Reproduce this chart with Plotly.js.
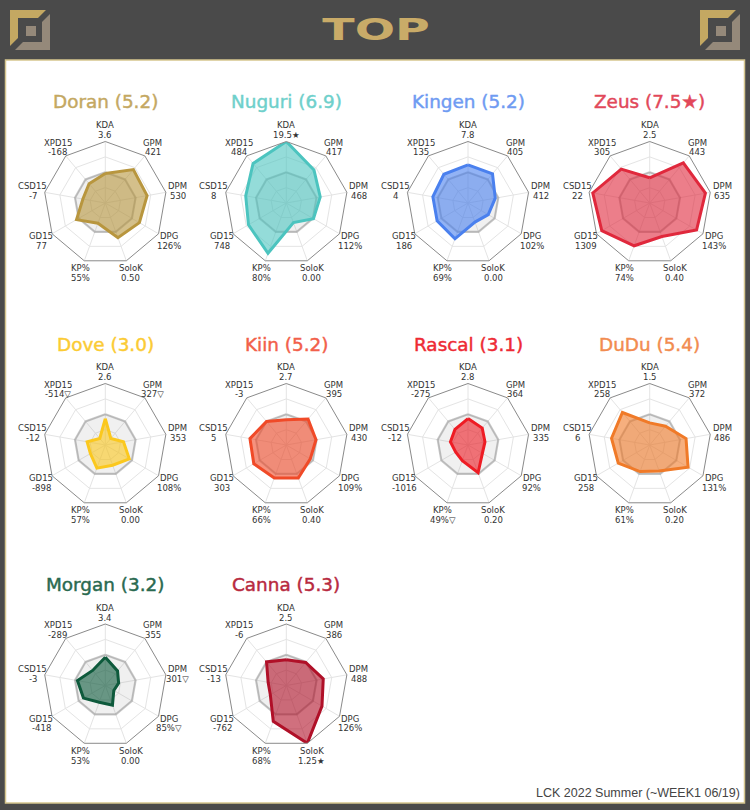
<!DOCTYPE html>
<html>
<head>
<meta charset="utf-8">
<script src="https://cdn.plot.ly/plotly-3.0.1.min.js"></script>
<style>html,body{margin:0;padding:0;background:#4a4a4a}#chart{width:750px;height:810px}</style>
</head>
<body>
<div id="chart"></div>
<script>
const axes = ['KDA','GPM','DPM','DPG','SoloK','KP%','GD15','CSD15','XPD15'];
const players = ['Doran','Nuguri','Kingen','Zeus','Dove','Kiin','Rascal','DuDu','Morgan','Canna'];
const scores = ['5.2','6.9','5.2','7.5★','3.0','5.2','3.1','5.4','3.2','5.3'];
const lineColors = ['#b8963e','#4cc4bf','#4a80ee','#e0283c','#fbc81e','#f04a28','#ee1c24','#f07a28','#0e5a3c','#b01028'];
const titleColors = ['#c4a862','#6fd0cb','#6f9bf2','#e2485a','#fbcb34','#f2604a','#ee2a34','#f28c50','#2a6a50','#b82a40'];
const doran  = [.48,.71,.69,.64,.60,.35,.54,.37,.41];
const nuguri = [1.0,.70,.56,.51,.34,.87,.71,.67,.84];
const kingen = [.62,.62,.45,.38,.33,.62,.58,.58,.61];
const zeus   = [.41,.85,.92,.88,.58,.74,.90,.94,.72];
const dove   = [.43,.14,.30,.45,.35,.40,.28,.30,.14];
const kiin   = [.41,.55,.49,.45,.57,.57,.61,.60,.50];
const rascal = [.43,.36,.28,.27,.48,.27,.23,.29,.33];
const dudu   = [.36,.40,.60,.72,.45,.46,.59,.63,.69];
const morgan = [.46,.31,.22,.16,.34,.29,.41,.46,.32];
const canna  = [.42,.49,.61,.67,1.0,.62,.30,.30,.50];
const series = [doran,nuguri,kingen,zeus,dove,kiin,rascal,dudu,morgan,canna];
const average = [.5,.5,.5,.5,.5,.5,.5,.5,.5];
const labels = [
 ['3.6','421','530','126%','0.50','55%','77','-7','-168'],
 ['19.5★','417','468','112%','0.00','80%','748','8','484'],
 ['7.8','405','412','102%','0.00','69%','186','4','135'],
 ['2.5','443','635','143%','0.40','74%','1309','22','305'],
 ['2.6','327▽','353','108%','0.00','57%','-898','-12','-514▽'],
 ['2.7','395','430','109%','0.40','66%','303','5','-3'],
 ['2.8','364','335','92%','0.20','49%▽','-1016','-12','-275'],
 ['1.5','372','486','131%','0.20','61%','258','6','258'],
 ['3.4','355','301▽','85%▽','0.00','53%','-418','-3','-289'],
 ['2.5','386','488','126%','1.25★','68%','-762','-13','-6']
];
const W = 750, H = 810, R = 61.5;
const colX = [105.3, 286.3, 468, 649.7];
const rowY = [203, 445, 685.5];
const FONT = 'DejaVu Sans';
const px = x => x / W, py = y => 1 - y / H;

const closed = a => a.concat(a[0]);
const thetas = closed(axes);
const traces = [];
const layout = {
  width: W, height: H, margin: {l:0,r:0,t:0,b:0},
  paper_bgcolor: '#4a4a4a', plot_bgcolor: '#4a4a4a', showlegend: false,
  font: {family: FONT, color: '#222'},
  shapes: [], annotations: []
};
function poly(points, fill) {
  const d = points.map((p,i)=>(i?'L':'M')+px(p[0]).toFixed(5)+','+py(p[1]).toFixed(5)).join(' ')+' Z';
  layout.shapes.push({type:'path',xref:'paper',yref:'paper',path:d,fillcolor:fill,line:{width:0},layer:'below'});
}
function note(x,y,text,font,anchor){
  layout.annotations.push({xref:'paper',yref:'paper',x:px(x),y:py(y),xanchor:anchor||'center',yanchor:'middle',
    text:text,showarrow:false,font:font,borderpad:0,borderwidth:0});
}
// white frame
layout.shapes.push({type:'rect',xref:'paper',yref:'paper',x0:px(5.5),x1:px(744.5),y0:py(60),y1:py(803),
  fillcolor:'#ffffff',line:{color:'#d6c68f',width:1.5},layer:'below'});
// corner emblems
[0,690].forEach(o=>{
  poly([[10,10],[46,10],[38,18],[18,18],[18,38],[10,46]].map(p=>[p[0]+o,p[1]]),'#c4a862');
  poly([[50,14],[50,50],[15,50],[23,42],[42,42],[42,22]].map(p=>[p[0]+o,p[1]]),'#95897a');
  poly([[26,26],[36,26],[36,36],[26,36]].map(p=>[p[0]+o,p[1]]),'#95897a');
});
note(375.5,30,'<b>TOP</b>',{family:FONT,size:30,color:'#c9ab68'});
note(740,793,'LCK 2022 Summer (~WEEK1 06/19)',{family:'Liberation Sans',size:12.5,color:'#444444'},'right');

const labelFont = {family:FONT,size:8.5,color:'#333333'};
players.forEach((name,i)=>{
  const cx = colX[i%4], cy = rowY[Math.floor(i/4)];
  const key = 'polar'+(i===0?'':i+1);
  layout[key] = {
    domain:{x:[px(cx-R),px(cx+R)],y:[py(cy+R),py(cy-R)]},
    gridshape:'linear', bgcolor:'rgba(0,0,0,0)',
    angularaxis:{direction:'clockwise',rotation:90,type:'category',categoryorder:'array',categoryarray:axes,
      showticklabels:false,ticks:'',showline:true,linecolor:'#8a8a8a',linewidth:1,showgrid:true,gridcolor:'#e4e4e4',gridwidth:1},
    radialaxis:{range:[0,1],tickvals:[.25,.5,.75],showticklabels:false,ticks:'',showline:false,showgrid:true,gridcolor:'#e4e4e4',gridwidth:1}
  };
  traces.push({type:'scatterpolar',subplot:key,mode:'lines',r:closed(average),theta:thetas,
    fill:'toself',fillcolor:'rgba(128,128,128,0.12)',line:{color:'rgba(128,128,128,0.42)',width:2.2},hoverinfo:'skip'});
  traces.push({type:'scatterpolar',subplot:key,mode:'lines',r:closed(series[i]),theta:thetas,
    fill:'toself',fillcolor:lineColors[i]+'99',line:{color:lineColors[i],width:3,shape:'linear'},hoverinfo:'skip'});
  axes.forEach((a,j)=>{
    const ang = j*2*Math.PI/axes.length;
    const lx = cx + 1.2*R*Math.sin(ang), ly = cy - 1.2*R*Math.cos(ang) + 1;
    note(lx,ly-4.85,a,labelFont);
    note(lx,ly+4.85,labels[i][j],labelFont);
  });
  note(cx,cy-101,name+' ('+scores[i]+')',{family:FONT,size:18.4,color:titleColors[i]});
});

Plotly.newPlot('chart',traces,layout,{staticPlot:true,displayModeBar:false}).then(()=>{
  document.querySelectorAll('.annotation-text').forEach(t=>{
    const s=t.textContent;
    if(s==='TOP'){
      const b=t.getBBox(), c=b.x+b.width/2;
      t.setAttribute('transform','translate('+c+',0) scale(1.58,1) translate('+(-c)+',0)');
    } else if(players.some(p=>s.startsWith(p+' ('))){
      t.style.stroke=t.style.fill; t.style.strokeWidth='0.45px';
    }
  });
});
</script>
</body>
</html>
